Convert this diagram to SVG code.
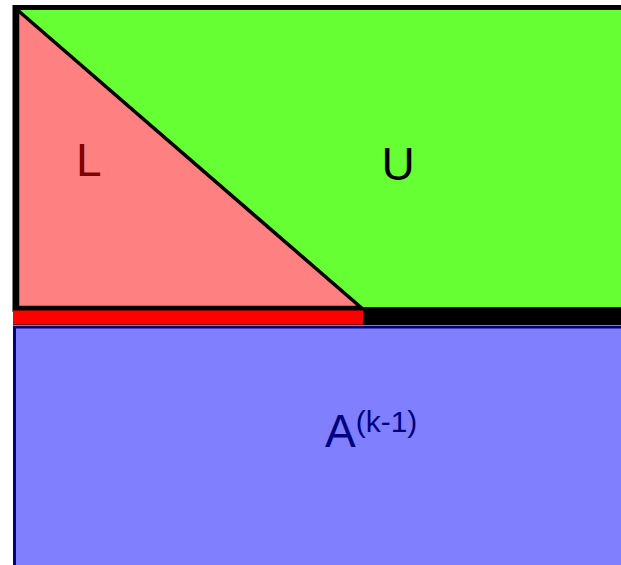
<svg xmlns="http://www.w3.org/2000/svg" width="621" height="565" viewBox="0 0 621 565">
<style>
.lbl{font-family:"Liberation Sans",Arial,sans-serif;font-size:46px}
</style>
<rect width="621" height="565" fill="#ffffff"/>
<g id="U">
<rect x="15" y="7.5" width="620" height="302" fill="#66ff33" stroke="#000000" stroke-width="5"/>
<text class="lbl" x="398" y="180" text-anchor="middle" fill="#000000">U</text>
</g>
<g id="L">
<polygon points="17.5,10 17.5,307.5 361,307.5" fill="#ff8080" stroke="#000000" stroke-width="3.5" stroke-linejoin="miter"/>
<text class="lbl" x="76" y="176" fill="#800000">L</text>
</g>
<g id="connectors">
<line x1="13" y1="317.5" x2="621" y2="317.5" stroke="#000000" stroke-width="15"/>
<line x1="13" y1="317.5" x2="363" y2="317.5" stroke="#ff0000" stroke-width="14"/>
</g>
<g id="A">
<rect x="14.5" y="327" width="620" height="250" fill="#8080ff" stroke="#000080" stroke-width="3"/>
<text class="lbl" x="325" y="447" fill="#000080">A<tspan font-size="30" dy="-15">(k-1)</tspan></text>
</g>
</svg>
